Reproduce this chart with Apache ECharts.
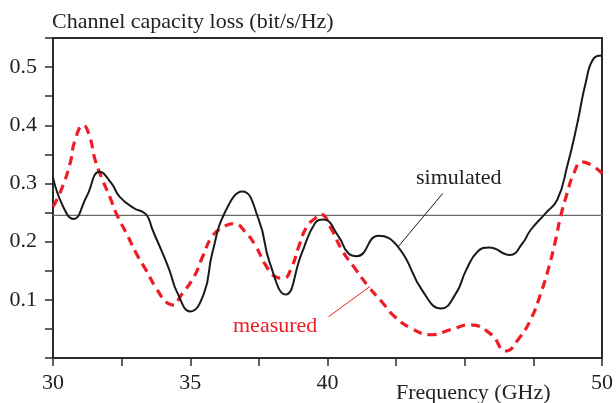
<!DOCTYPE html>
<html>
<head>
<meta charset="utf-8">
<script src="https://cdn.jsdelivr.net/npm/echarts@6/dist/echarts.min.js"></script>
<style>html,body{margin:0;padding:0;background:#fff}#c{width:616px;height:403px}</style>
</head>
<body>
<div id="c"></div>
<script>
// Simulated channel capacity loss (black solid)
var simFreq = [30.0, 30.37, 30.74, 31.22, 31.7, 32.13, 32.43, 32.97, 33.27, 33.45, 33.63, 33.94, 34.24, 34.54, 35.0, 35.5, 35.8, 36.3, 36.9, 37.5, 37.9, 38.47, 39.06, 39.55, 39.85, 40.4, 40.76, 41.07, 41.85, 42.57, 43.48, 44.14, 44.68, 45.05, 45.47, 45.89, 46.64, 47.1, 47.4, 47.95, 48.37, 48.73, 49.1, 49.4, 49.7, 50.0];
var simVals = [0.31, 0.26, 0.239, 0.277, 0.32, 0.30, 0.277, 0.257, 0.251, 0.243, 0.22, 0.186, 0.151, 0.111, 0.080, 0.111, 0.18, 0.254, 0.286, 0.237, 0.163, 0.109, 0.18, 0.232, 0.238, 0.209, 0.18, 0.175, 0.21, 0.191, 0.114, 0.085, 0.111, 0.151, 0.183, 0.19, 0.177, 0.197, 0.22, 0.249, 0.272, 0.329, 0.403, 0.472, 0.515, 0.52];
// Measured channel capacity loss (red dashed)
var measFreq = [30.0, 30.3, 30.62, 30.8, 31.1, 31.34, 31.52, 31.76, 32.07, 32.3, 32.73, 33.03, 33.39, 33.76, 34.18, 34.4, 34.64, 35.14, 35.45, 35.8, 36.23, 36.6, 37.0, 37.4, 37.74, 38.1, 38.4, 38.7, 38.95, 39.25, 39.55, 39.75, 40.16, 40.52, 41.0, 41.49, 41.97, 42.45, 43.05, 43.78, 44.5, 45.2, 45.95, 46.5, 46.98, 47.4, 47.77, 48.07, 48.31, 48.49, 48.73, 48.97, 49.27, 49.7, 50.0];
var measVals = [0.26, 0.289, 0.334, 0.374, 0.40, 0.38, 0.343, 0.311, 0.277, 0.249, 0.209, 0.18, 0.151, 0.12, 0.094, 0.091, 0.106, 0.14, 0.174, 0.209, 0.226, 0.231, 0.217, 0.191, 0.16, 0.14, 0.137, 0.157, 0.191, 0.226, 0.24, 0.247, 0.22, 0.186, 0.154, 0.123, 0.097, 0.071, 0.051, 0.04, 0.049, 0.057, 0.041, 0.012, 0.034, 0.066, 0.111, 0.157, 0.203, 0.243, 0.283, 0.317, 0.337, 0.329, 0.317];
// Horizontal reference level
var refLevel = 0.245;
// Tick labels
var xTickLabels = ['30', '35', '40', '50'];
var yTickLabels = ['0.1', '0.2', '0.3', '0.4', '0.5'];
// Callout leader lines (data coordinates)
var simLeader = [[44.2, 0.283], [42.57, 0.191]];
var measLeader = [[40.04, 0.071], [41.55, 0.123]];

var FONT = '"Liberation Serif", "Times New Roman", serif';
function zip(a, b) { return a.map(function (v, i) { return [v, b[i]]; }); }

var chart = echarts.init(document.getElementById('c'), null, {renderer: 'canvas'});
var option = {
  animation: false,
  grid: {left: 53, right: 11, top: 38, bottom: 45, show: true, borderColor: '#2b2b2b', borderWidth: 2, containLabel: false},
  xAxis: {
    type: 'value', min: 30, max: 50, interval: 2.5,
    axisLine: {show: true, lineStyle: {color: '#2b2b2b', width: 2}},
    axisTick: {show: true, inside: false, length: 8, lineStyle: {color: '#2b2b2b', width: 1.5}},
    splitLine: {show: false},
    axisLabel: {
      margin: 14, color: '#222', fontFamily: FONT, fontSize: 22,
      formatter: function (v) { var s = String(Math.round(v * 10) / 10); return xTickLabels.indexOf(s) >= 0 ? s : ''; }
    }
  },
  yAxis: {
    type: 'value', min: 0, max: 0.55, interval: 0.05,
    axisLine: {show: true, lineStyle: {color: '#2b2b2b', width: 2}},
    axisTick: {show: true, inside: false, length: 8, lineStyle: {color: '#2b2b2b', width: 1.5}},
    splitLine: {show: false},
    axisLabel: {
      margin: 16, color: '#222', fontFamily: FONT, fontSize: 22,
      formatter: function (v) { var s = (Math.round(v * 100) / 100).toFixed(2); s = s.replace(/0$/, ''); return yTickLabels.indexOf(s) >= 0 ? s : ''; }
    }
  },
  series: [
    {
      type: 'line', data: [[30, refLevel], [50, refLevel]], symbol: 'none', silent: true,
      lineStyle: {color: '#6b6b6b', width: 1.3}, z: 1
    },
    {
      type: 'line', data: zip(simFreq, simVals), symbol: 'none', smooth: 0.5,
      lineStyle: {color: '#1a1a1a', width: 2}, z: 3
    },
    {
      type: 'line', data: zip(measFreq, measVals), symbol: 'none', smooth: 0.5,
      lineStyle: {color: '#ee1d25', width: 3.2, type: [9, 6]}, z: 2
    },
    {
      type: 'line', data: simLeader, symbol: 'none', silent: true,
      lineStyle: {color: '#1a1a1a', width: 1}, z: 4
    },
    {
      type: 'line', data: measLeader, symbol: 'none', silent: true,
      lineStyle: {color: '#ee1d25', width: 1}, z: 4
    }
  ],
  graphic: [
    {type: 'text', left: 52, top: 11, style: {text: 'Channel capacity loss (bit/s/Hz)', fill: '#222', font: '22px ' + FONT}},
    {type: 'text', left: 396, top: 382, style: {text: 'Frequency (GHz)', fill: '#222', font: '22px ' + FONT}},
    {type: 'text', left: 416, top: 167, style: {text: 'simulated', fill: '#222', font: '22px ' + FONT}},
    {type: 'text', left: 233, top: 315, style: {text: 'measured', fill: '#ee1d25', font: '22px ' + FONT}}
  ]
};
chart.setOption(option);
</script>
</body>
</html>
